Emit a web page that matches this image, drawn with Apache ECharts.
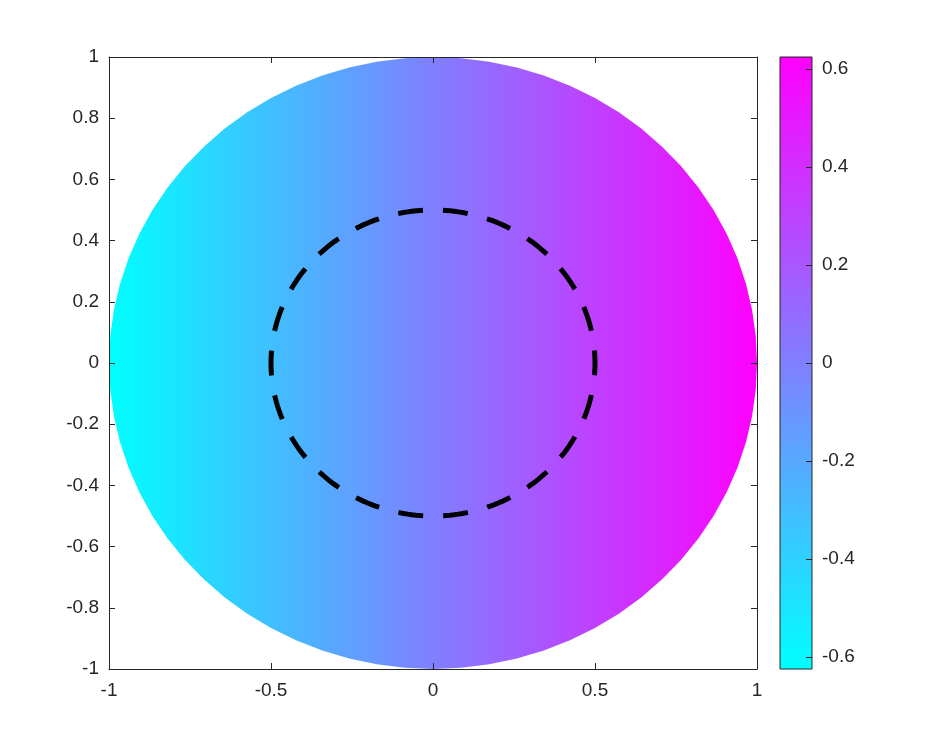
<!DOCTYPE html>
<html>
<head>
<meta charset="utf-8">
<script src="https://cdn.jsdelivr.net/npm/echarts@6/dist/echarts.min.js"></script>
<style>
  html, body { margin: 0; padding: 0; background: #fff; }
  #chart { width: 940px; height: 752px; }
</style>
</head>
<body>
<div id="chart"></div>
<script>
// disk: centre x, centre y, radius
const diskShape = [[0, 0, 1]];
// dashed circle: centre x, centre y, radius
const dashShape = [[0, 0, 0.5]];
// colour range of the field (left edge -> right edge of disk)
const colorRange = [-0.625, 0.625];
const colorStops = ['#00ffff', '#ff00ff'];
const xTicks = [-1, -0.5, 0, 0.5, 1];
const yTicks = [-1, -0.8, -0.6, -0.4, -0.2, 0, 0.2, 0.4, 0.6, 0.8, 1];
const cbTicks = [-0.6, -0.4, -0.2, 0, 0.2, 0.4, 0.6];
const diskFacets = 72;

const fontFam = '"Liberation Sans", Arial, Helvetica, sans-serif';
const ink = '#262626';
const fs = 19;

// points along a circle, in data units
function ringPoints(cx, cy, r, n) {
  const pts = [];
  for (let k = 0; k <= n; k++) {
    const a = (k / n) * Math.PI * 2;
    pts.push([cx + r * Math.cos(a), cy + r * Math.sin(a)]);
  }
  return pts;
}

const chart = echarts.init(document.getElementById('chart'));

function tick(vals) {
  return { show: true, inside: true, length: 6, lineStyle: { color: ink, width: 1 }, customValues: vals };
}
function label(vals, margin, extra) {
  return Object.assign({ color: ink, fontSize: fs, fontFamily: fontFam, margin: margin, customValues: vals }, extra);
}
const line = { show: true, onZero: false, lineStyle: { color: ink, width: 1 } };

const option = {
  animation: false,
  backgroundColor: '#fff',
  grid: [
    { left: 109, top: 57, width: 648, height: 612 },
    { left: 780, top: 57, width: 32, height: 612, show: true, borderColor: ink, borderWidth: 1, z: 10 }
  ],
  xAxis: [
    { type: 'value', gridIndex: 0, position: 'bottom', min: -1, max: 1, interval: 0.5, z: 10,
      axisLine: line, axisTick: tick(xTicks), splitLine: { show: false }, axisLabel: label(xTicks, 12) },
    { type: 'value', gridIndex: 0, position: 'top', min: -1, max: 1, interval: 0.5, z: 10,
      axisLine: line, axisTick: tick(xTicks), splitLine: { show: false }, axisLabel: { show: false } },
    { type: 'value', gridIndex: 1, min: 0, max: 1, show: false }
  ],
  yAxis: [
    { type: 'value', gridIndex: 0, position: 'left', min: -1, max: 1, interval: 0.2, z: 10,
      axisLine: line, axisTick: tick(yTicks), splitLine: { show: false }, axisLabel: label(yTicks, 10) },
    { type: 'value', gridIndex: 0, position: 'right', min: -1, max: 1, interval: 0.2, z: 10,
      axisLine: line, axisTick: tick(yTicks), splitLine: { show: false }, axisLabel: { show: false } },
    { type: 'value', gridIndex: 1, position: 'right', min: colorRange[0], max: colorRange[1], z: 10,
      axisLine: { show: false, onZero: false }, axisTick: tick(cbTicks), splitLine: { show: false },
      axisLabel: label(cbTicks, 10, { formatter: v => String(Math.round(v * 10) / 10) }) }
  ],
  series: [
    {
      type: 'custom',
      xAxisIndex: 0, yAxisIndex: 0,
      data: diskShape,
      silent: true,
      renderItem: (params, api) => {
        const cx = api.value(0), cy = api.value(1), r = api.value(2);
        const pts = ringPoints(cx, cy, r, diskFacets).map(p => api.coord(p));
        return {
          type: 'polygon',
          shape: { points: pts },
          style: {
            fill: new echarts.graphic.LinearGradient(0, 0, 1, 0, [
              { offset: 0, color: colorStops[0] },
              { offset: 1, color: colorStops[1] }
            ]),
            stroke: null
          }
        };
      }
    },
    {
      type: 'custom',
      xAxisIndex: 0, yAxisIndex: 0,
      data: dashShape,
      silent: true,
      z: 5,
      renderItem: (params, api) => {
        const cx = api.value(0), cy = api.value(1), r = api.value(2);
        const pts = ringPoints(cx, cy, r, 240).map(p => api.coord(p));
        return {
          type: 'polyline',
          shape: { points: pts },
          style: { stroke: '#000', lineWidth: 5, lineDash: [25, 20], lineDashOffset: 12.5, fill: null }
        };
      }
    },
    {
      type: 'custom',
      xAxisIndex: 2, yAxisIndex: 2,
      data: [[0, colorRange[1], 1, colorRange[0]]],
      silent: true,
      z: 1,
      renderItem: (params, api) => {
        const p0 = api.coord([api.value(0), api.value(1)]);
        const p1 = api.coord([api.value(2), api.value(3)]);
        return {
          type: 'rect',
          shape: { x: p0[0], y: p0[1], width: p1[0] - p0[0], height: p1[1] - p0[1] },
          style: {
            fill: new echarts.graphic.LinearGradient(0, 0, 0, 1, [
              { offset: 0, color: colorStops[1] },
              { offset: 1, color: colorStops[0] }
            ])
          }
        };
      }
    }
  ]
};

chart.setOption(option);
</script>
</body>
</html>
